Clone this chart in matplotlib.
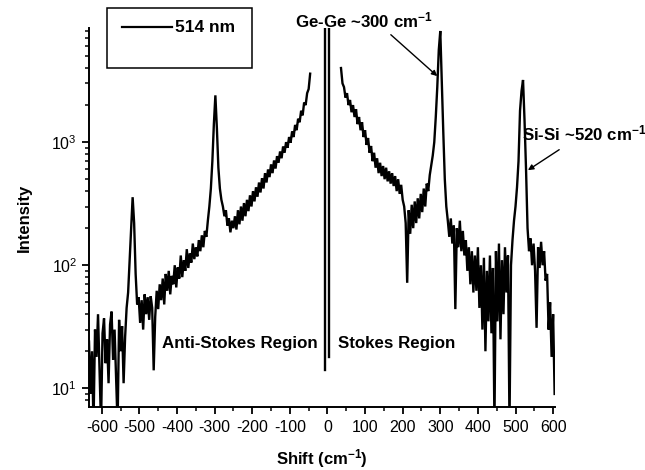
import numpy as np
import matplotlib
matplotlib.use("Agg")
import matplotlib.pyplot as plt
from matplotlib.ticker import MultipleLocator, LogLocator, FixedLocator, FuncFormatter, NullFormatter
from matplotlib.patches import Rectangle
from matplotlib.lines import Line2D

plt.rcParams["font.family"] = ["Liberation Sans", "DejaVu Sans"]
plt.rcParams["mathtext.default"] = "regular"

# Anti-Stokes branch: Raman shift from -634 cm^-1 in 4 cm^-1 steps
as_start, as_step = -634, 4
anti_stokes = [
    24, 9, 20, 5, 30, 18, 40, 14, 5, 28, 37, 16, 25, 11, 33, 42, 17, 30, 12, 5,
    36, 20, 32, 11, 26, 45, 60, 110, 200, 357, 220, 85, 48, 55, 34, 52, 30, 58, 40, 55,
    36, 56, 45, 14, 38, 62, 44, 70, 52, 78, 48, 85, 62, 90, 58, 82, 70, 100, 66, 96,
    78, 120, 80, 110, 90, 135, 95, 125, 105, 150, 112, 140, 118, 160, 130, 175, 140, 190, 170, 230,
    300, 420, 700, 1400, 2400, 1300, 620, 420, 340, 300, 250, 280, 210, 240, 185, 230, 200,
    250, 195, 280, 215, 300, 230, 320, 250, 340, 275, 370, 300, 400, 330, 430, 360, 470, 390, 510, 420,
    560, 470, 600, 520, 660, 560, 710, 610, 770, 680, 840, 740, 920, 820, 1000, 900, 1100, 990, 1220, 1100,
    1380, 1250, 1550, 1450, 1800, 1650, 2100, 2000, 2500, 2700, 3600,
]

# Stokes branch: Raman shift from 36 cm^-1 in 4 cm^-1 steps
st_start, st_step = 36, 4
stokes = [
    4000, 3000, 2800, 2300, 2500, 2000, 2200, 1750, 2000, 1600, 1850, 1400, 1600, 1250, 1450, 1100, 1250, 950, 1080, 820,
    930, 700, 820, 620, 740, 560, 680, 530, 640, 500, 620, 480, 580, 460, 560, 440, 530, 400, 500, 380,
    450, 340, 300, 220, 72, 280, 180, 310, 200, 330, 220, 350, 240, 380, 270, 420, 300, 460, 400, 540,
    650, 780, 1000, 1600, 2800, 5600, 8000, 3000, 1200, 500, 300, 230, 170, 240, 150, 210, 44, 200, 140, 230,
    130, 190, 120, 160, 90, 140, 70, 130, 60, 120, 62, 140, 45, 100, 30, 115, 20, 90, 35, 120,
    28, 95, 5, 130, 35, 150, 25, 110, 40, 140, 60, 120, 5, 100, 160, 230, 300, 430, 700, 1800,
    2600, 3200, 1500, 600, 200, 130, 165, 100, 150, 90, 31, 140, 95, 155, 100, 130, 75, 85, 30, 50,
    18, 40, 9,
]

# Rayleigh (laser) line around zero shift
laser_shift = [-6, -6, 5, 5]
laser_int = [14, 20000, 20000, 18]

x_as = as_start + as_step * np.arange(len(anti_stokes))
x_st = st_start + st_step * np.arange(len(stokes))

fig = plt.figure(figsize=(6.45, 4.70), dpi=100)
ax = fig.add_axes([89 / 645, 1 - 407 / 470, (555 - 89) / 645, (407 - 28) / 470])

line_kw = dict(color="black", lw=1.7, solid_joinstyle="miter")
ax.plot(x_as, anti_stokes, **line_kw)
ax.plot(laser_shift, laser_int, **line_kw)
ax.plot(x_st, stokes, **line_kw)

ax.set_yscale("log")
ax.set_xlim(-634, 605)
ax.set_ylim(7.05, 8460)

for side in ("top", "right"):
    ax.spines[side].set_visible(False)
for side in ("left", "bottom"):
    ax.spines[side].set_linewidth(1.4)

ax.xaxis.set_major_locator(MultipleLocator(100))
ax.xaxis.set_minor_locator(MultipleLocator(50))
ax.yaxis.set_major_locator(FixedLocator([10, 100, 1000]))
ax.yaxis.set_minor_locator(LogLocator(base=10, subs=np.arange(2, 10)))
ax.yaxis.set_minor_formatter(NullFormatter())
ax.yaxis.set_major_formatter(FuncFormatter(lambda v, p: r"$10^{%d}$" % round(np.log10(v))))
ax.xaxis.set_major_formatter(FuncFormatter(lambda v, p: "%d" % v))

ax.tick_params(which="major", direction="out", length=5, width=1.3, labelsize=11.5)
ax.tick_params(which="minor", direction="out", length=3, width=1.1)
ax.tick_params(axis="x", pad=4)

ax.set_xlabel("Shift (cm$^{-1}$)", fontsize=12, fontweight="bold", labelpad=9)
ax.set_ylabel("Intensity", fontsize=12, fontweight="bold", labelpad=14)

ann_kw = dict(fontsize=12.2, fontweight="bold")
ax.text(-439, 23.2, "Anti-Stokes Region", va="center", ha="left", **ann_kw)
ax.text(28, 23.2, "Stokes Region", va="center", ha="left", **ann_kw)

ax.annotate("Ge-Ge ~300 cm$^{-1}$", xy=(292, 3440), xytext=(-87, 9800),
            ha="left", va="center", annotation_clip=False,
            arrowprops=dict(arrowstyle="-|>", color="black", lw=1.0,
                            mutation_scale=8, shrinkA=2, shrinkB=0,
                            relpos=(0.66, 0.0)), **ann_kw)
ax.annotate("Si-Si ~520 cm$^{-1}$", xy=(533, 592), xytext=(517, 1183),
            ha="left", va="center", annotation_clip=False,
            arrowprops=dict(arrowstyle="-|>", color="black", lw=1.0,
                            mutation_scale=8, shrinkA=5, shrinkB=0,
                            relpos=(0.38, 0.0)), **ann_kw)

# Legend box drawn in figure pixels
W, H = 645, 470
fig.add_artist(Rectangle((107 / W, 1 - 68 / H), (252 - 107) / W, (68 - 8) / H,
                         transform=fig.transFigure, fill=False, lw=1.1, ec="black"))
fig.add_artist(Line2D([122 / W, 172 / W], [1 - 27 / H, 1 - 27 / H],
                      transform=fig.transFigure, color="black", lw=1.6))
fig.text(175 / W, 1 - 27 / H, "514 nm", ha="left", va="center", fontsize=12.5, fontweight="bold")

fig.savefig("out.png", dpi=100, facecolor="white")
